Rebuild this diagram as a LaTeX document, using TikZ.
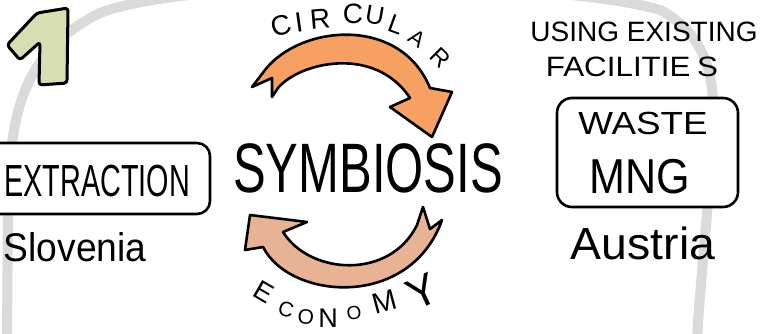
\documentclass[tikz,border=0pt]{standalone}
\usepackage{fontspec}
\usepackage{graphicx}
\setmainfont{Liberation Sans}
\definecolor{arcgray}{HTML}{DADADA}
\definecolor{toporange}{HTML}{F7A064}
\definecolor{botpeach}{HTML}{E8B294}
\definecolor{numgreen}{HTML}{D8DEB4}
\tikzset{
  fs/.style={font=\fontsize{#1}{#1}\selectfont},
  txt/.style={inner sep=0pt, outer sep=0pt, text=black},
  boxed/.style={draw=black, line width=2.6pt, fill=white, rounded corners=13pt, inner sep=0pt},
  blob/.style={draw=black, line width=2.6pt, line join=round},
  letter/.style={inner sep=0pt, outer sep=0pt, text=black, anchor=center}
}
\begin{document}
\begin{tikzpicture}[x=1pt,y=-1pt]
\useasboundingbox[fill=white] (0,0) rectangle (765,334);

% big gray arc in the background
\draw[arcgray, line width=10pt, line cap=round]
  (7,340) -- (8,200) .. controls (10,110) and (25,50) .. (100,13)
  .. controls (200,-25) and (560,-20) .. (660,10)
  .. controls (700,30) and (714,70) .. (713,110)
  .. controls (712,180) and (700,280) .. (697,340);

% numeral one
\draw[fill=numgreen, line width=3pt, line join=round, rounded corners=3pt]
  (37,13) -- (68,8) -- (67,83) -- (39,85) -- (40,42) -- (20,60) -- (7,45) -- cycle;

% left box
\node[boxed, minimum width=240pt, minimum height=71pt] (extractionbox) at (90,178.5) {};
\node[txt, fs=45, anchor=base] (extraction) at (97,196) {\scalebox{0.64}[1]{EXTRACTION}};
\node[txt, fs=40, anchor=base] (slovenia) at (75,261) {\scalebox{0.93}[1]{Slovenia}};

% right box
\node[boxed, rounded corners=15pt, minimum width=181pt, minimum height=109pt] (wastebox) at (647.5,152.5) {};
\node[txt, fs=32, anchor=base] (waste) at (643,135) {\scalebox{1.15}[1]{WASTE}};
\node[txt, fs=49, anchor=base] (mng) at (640,193) {\scalebox{0.88}[1]{MNG}};
\node[txt, fs=45, anchor=base] (austria) at (643,259) {\scalebox{1.03}[1]{Austria}};

\node[txt, fs=28, anchor=base] (using) at (644,42) {\scalebox{1.0}[1]{USING EXISTING}};
\node[txt, fs=28, anchor=base] (facilities) at (632,77) {\scalebox{1.12}[1]{FACILITIE\kern6pt S}};

% centre word
\node[txt, fs=70, anchor=base] (symbiosis) at (368,192) {\scalebox{0.70}[1]{SYMBIOSIS}};

% top arrow
\draw[blob, fill=toporange]
  (252,87) -- (272,78) -- (272,97) -- (278,88)
  .. controls (300,62) and (375,45) .. (410,98)
  -- (390,107) -- (432,137) -- (452,92) -- (430,88)
  .. controls (400,15) and (300,25) .. (265,70) -- cycle;

% bottom arrow
\draw[blob, fill=botpeach]
  (250,215) -- (307,222) -- (283,232)
  .. controls (310,275) and (390,280) .. (417,225)
  -- (423,207) -- (430,229) -- (442,220)
  .. controls (410,310) and (290,300) .. (263,247)
  -- (245,250) -- cycle;

% CIRCULAR
\node[letter, fs=28, rotate=15]  (c1) at (281,26) {C};
\node[letter, fs=28, rotate=8]   (c2) at (299,22) {I};
\node[letter, fs=28, rotate=5]   (c3) at (320,19) {R};
\node[letter, fs=28, rotate=0]   (c4) at (353,14) {C};
\node[letter, fs=26, rotate=-10] (c5) at (375,15) {U};
\node[letter, fs=26, rotate=-20] (c6) at (396,25) {L};
\node[letter, fs=22, rotate=-35] (c7) at (417,39) {A};
\node[letter, fs=24, rotate=-45] (c8) at (440,58) {R};

% ECONOMY
\node[letter, fs=27, rotate=-30] (e1) at (264,292) {E};
\node[letter, fs=21, rotate=-15] (e2) at (286,309) {C};
\node[letter, fs=21, rotate=-5]  (e3) at (306,317) {O};
\node[letter, fs=27, rotate=0]   (e4) at (328,318) {N};
\node[letter, fs=19, rotate=8]   (e5) at (354,313) {O};
\node[letter, fs=29, rotate=15]  (e6) at (385,302) {M};
\node[letter, fs=44, rotate=25]  (e7) at (422,292) {Y};
\end{tikzpicture}
\end{document}
